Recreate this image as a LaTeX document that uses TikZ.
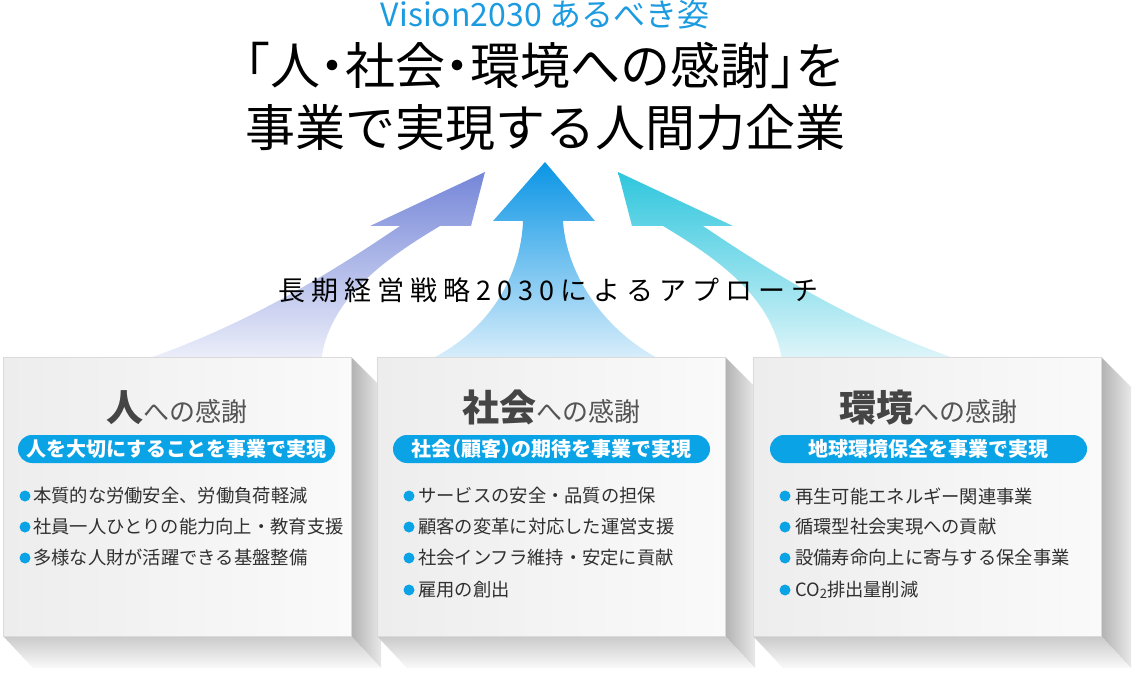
\documentclass[tikz,border=0pt]{standalone}
\usepackage{fontspec}
\setmainfont{Noto Sans CJK JP}
\definecolor{pillblue}{HTML}{0AA3E6}
\definecolor{visblue}{HTML}{1D9BE0}
\definecolor{aLa}{HTML}{7586D8}
\definecolor{aLb}{HTML}{EEF0FA}
\definecolor{aMa}{HTML}{0A95E5}
\definecolor{aMb}{HTML}{DCEFFB}
\definecolor{aRa}{HTML}{2EC6DD}
\definecolor{aRb}{HTML}{E2F6FA}
\definecolor{shSa}{HTML}{B2B2B2}
\definecolor{shSb}{HTML}{E8E8E8}
\definecolor{shBa}{HTML}{CACACA}
\definecolor{shBb}{HTML}{FAFAFA}
\definecolor{faceline}{HTML}{DADADA}
\definecolor{faceL}{HTML}{EDEDED}
\definecolor{faceR}{HTML}{FAFAFA}
\definecolor{titlegray}{HTML}{454545}
\definecolor{subgray}{HTML}{555555}
\definecolor{bodygray}{HTML}{303030}
\makeatletter
\def\spaced#1{\sp@ced#1\@nil}
\def\sp@ced#1{\ifx#1\@nil\else#1\hspace{6pt}\expandafter\sp@ced\fi}
\makeatother
\newcommand\cardshadow[2]{%
  \shade[left color=shSa, right color=shSb] (#2,357) -- (#2+30,387) -- (#2+30,668) -- (#2,636) -- cycle;
  \shade[top color=shBa, bottom color=shBb] (#1,636) -- (#2,636) -- (#2+30,668) -- (#1+30,668) -- cycle;
}
\tikzset{
  pill/.style={rectangle, rounded corners=14pt, fill=pillblue, text=white, minimum width=317pt, minimum height=28pt, inner sep=0pt, font=\fontsize{20}{20}\selectfont\bfseries},
  bdot/.style={circle, fill=pillblue, minimum size=11pt, inner sep=0pt},
  btext/.style={anchor=west, inner sep=0pt, text=bodygray, font=\fontsize{18.3}{18.3}\selectfont},
  face/.style={rectangle, anchor=north west, draw=faceline, line width=1.2pt, left color=faceL, right color=faceR, minimum width=348pt, minimum height=279pt, inner sep=0pt},
  cardtitle/.style={anchor=base, inner sep=0pt},
}
\newcommand\bigpart[1]{{\fontsize{37}{37}\selectfont\bfseries\color{titlegray}#1}}
\newcommand\smallpart[1]{{\fontsize{26}{26}\selectfont\color{subgray}#1}}
\begin{document}
\begin{tikzpicture}[x=1pt,y=-1pt]
\useasboundingbox (0,0) rectangle (1143,676);
% arrows
\shade[top color=aLa, bottom color=aLb] (485,172) -- (471,226) -- (440,226) .. controls (383,260) and (328,300) .. (321,362) -- (138,362) .. controls (233,330) and (313,285) .. (400,226) -- (370,226) -- cycle;
\shade[top color=aMa, bottom color=aMb] (545,162) -- (595,221) -- (563,221) .. controls (566,270) and (600,330) .. (665,362) -- (425,362) .. controls (490,332) and (521,275) .. (523,221) -- (493,221) -- cycle;
\shade[top color=aRa, bottom color=aRb] (618,172) -- (632,226) -- (663,226) .. controls (720,260) and (775,300) .. (782,362) -- (965,362) .. controls (870,330) and (790,285) .. (703,226) -- (733,226) -- cycle;
% titles
\node[anchor=base, inner sep=0pt, text=visblue, font=\fontsize{32}{32}\selectfont] (vision) at (545,27) {Vision2030 あるべき姿};
\node[anchor=base, inner sep=0pt, text=black, font=\fontsize{50}{50}\selectfont] (title1) at (545,85) {\makebox[0.5em][r]{「}人\makebox[0.5em][c]{・}社会\makebox[0.5em][c]{・}環境への感謝\makebox[0.5em][l]{」}を};
\node[anchor=base, inner sep=0pt, text=black, font=\fontsize{50}{50}\selectfont] (title2) at (545,147) {事業で実現する人間力企業};
\node[anchor=west, inner sep=0pt, text=black, font=\fontsize{27}{27}\selectfont] (approach) at (278,290.5) {\spaced{長期経営戦略2030によるアプローチ}};
% card 1
\cardshadow{3}{351}
\node[face] (card1) at (3,357) {};
\node[cardtitle] (card1title) at (176.5,421) {\bigpart{人}\smallpart{への感謝}};
\node[pill] (card1pill) at (176.5,449) {人を大切にすることを事業で実現};
\node[bdot] (c1d1) at (25,496) {};
\node[btext] (c1l1) at (33,496) {本質的な労働安全、労働負荷軽減};
\node[bdot] (c1d2) at (25,527) {};
\node[btext] (c1l2) at (33,527) {社員一人ひとりの能力向上・教育支援};
\node[bdot] (c1d3) at (25,558) {};
\node[btext] (c1l3) at (33,558) {多様な人財が活躍できる基盤整備};
% card 2
\cardshadow{377}{725}
\node[face] (card2) at (377,357) {};
\node[cardtitle] (card2title) at (551.5,421) {\bigpart{社会}\smallpart{への感謝}};
\node[pill] (card2pill) at (551.5,449) {社会\makebox[0.5em][r]{（}顧客\makebox[0.5em][l]{）}の期待を事業で実現};
\node[bdot] (c2d1) at (409,496) {};
\node[btext] (c2l1) at (418,496) {サービスの安全・品質の担保};
\node[bdot] (c2d2) at (409,527) {};
\node[btext] (c2l2) at (418,527) {顧客の変革に対応した運営支援};
\node[bdot] (c2d3) at (409,558) {};
\node[btext] (c2l3) at (418,558) {社会インフラ維持・安定に貢献};
\node[bdot] (c2d4) at (409,590) {};
\node[btext] (c2l4) at (418,590) {雇用の創出};
% card 3
\cardshadow{753}{1101}
\node[face] (card3) at (753,357) {};
\node[cardtitle] (card3title) at (928,421) {\bigpart{環境}\smallpart{への感謝}};
\node[pill] (card3pill) at (928.5,449) {地球環境保全を事業で実現};
\node[bdot] (c3d1) at (785,496) {};
\node[btext] (c3l1) at (795,496) {再生可能エネルギー関連事業};
\node[bdot] (c3d2) at (785,527) {};
\node[btext] (c3l2) at (795,527) {循環型社会実現への貢献};
\node[bdot] (c3d3) at (785,558) {};
\node[btext] (c3l3) at (795,558) {設備寿命向上に寄与する保全事業};
\node[bdot] (c3d4) at (785,590) {};
\node[btext] (c3l4) at (795,590) {CO\raisebox{-0.12em}{\fontsize{13}{13}\selectfont 2}排出量削減};
\end{tikzpicture}
\end{document}
